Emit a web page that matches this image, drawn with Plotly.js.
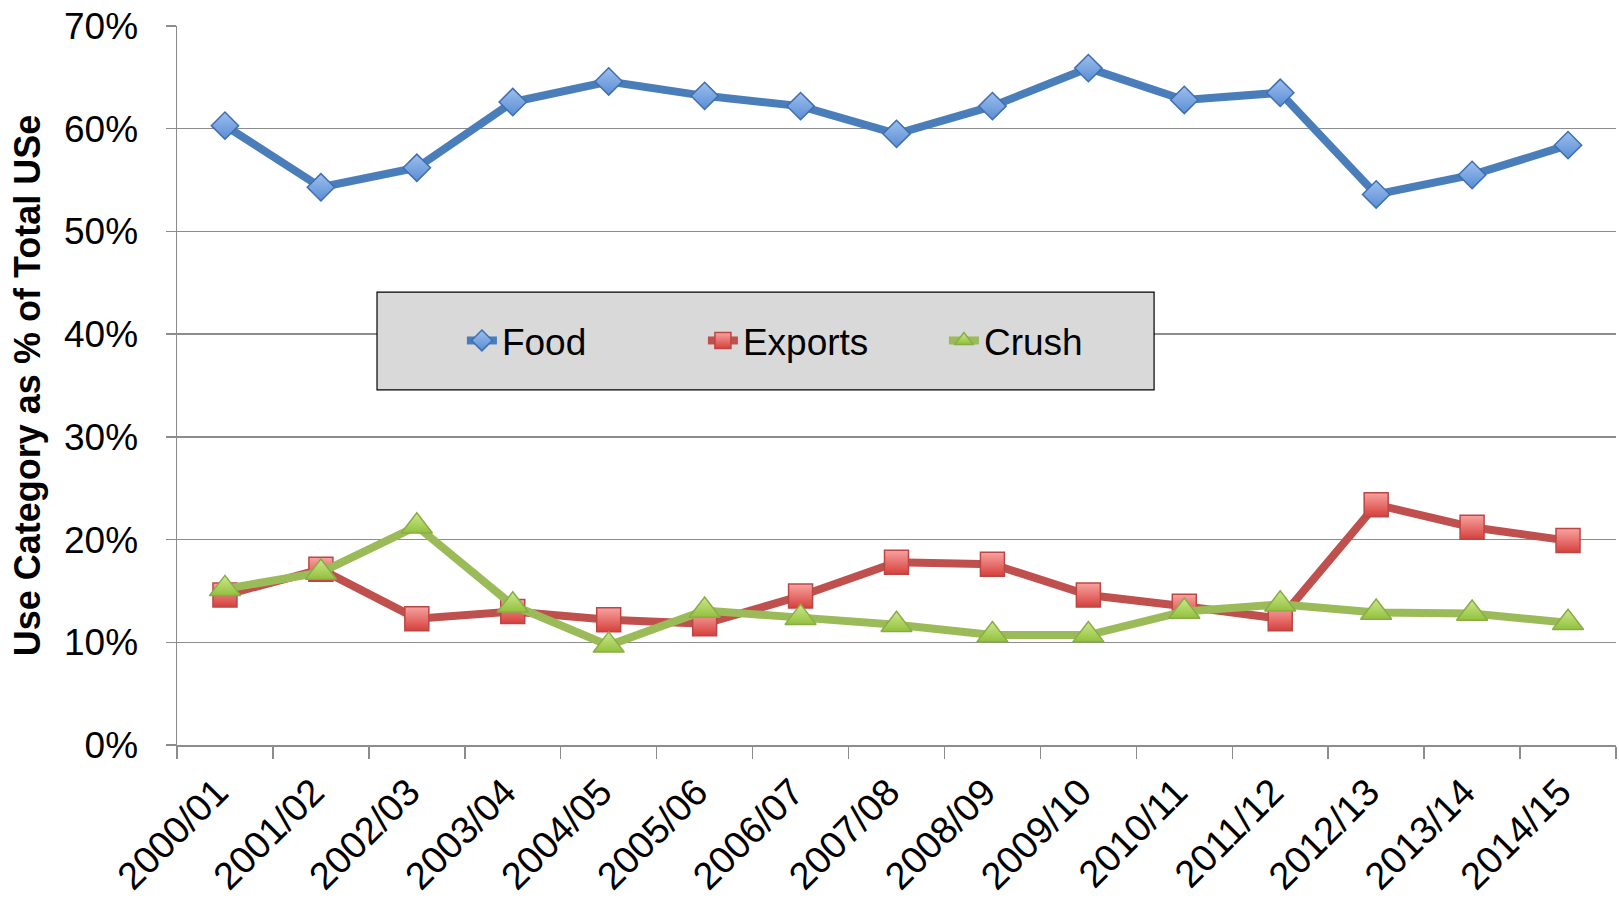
<!DOCTYPE html>
<html>
<head>
<meta charset="utf-8">
<script src="https://cdn.plot.ly/plotly-3.0.1.min.js"></script>
<style>html,body{margin:0;padding:0;background:#fff;}#chart{width:1619px;height:917px;}</style>
</head>
<body>
<div id="chart"></div>
<script>
var years = ["2000/01","2001/02","2002/03","2003/04","2004/05","2005/06","2006/07","2007/08","2008/09","2009/10","2010/11","2011/12","2012/13","2013/14","2014/15"];
var food    = [60.3, 54.3, 56.2, 62.6, 64.6, 63.2, 62.2, 59.5, 62.2, 65.9, 62.8, 63.5, 53.6, 55.5, 58.4];
var exportsV = [14.6, 17.1, 12.3, 13.0, 12.2, 11.8, 14.5, 17.8, 17.6, 14.6, 13.5, 12.3, 23.4, 21.2, 19.9];
var crush   = [15.2, 16.8, 21.3, 13.6, 9.7, 13.1, 12.4, 11.7, 10.7, 10.7, 13.0, 13.7, 12.9, 12.8, 11.9];
var seriesNames = ["Food", "Exports", "Crush"];

var FONT = '"Liberation Sans Narrow", "Liberation Sans", Arial, sans-serif';

var traces = [
  {x: years, y: food, name: seriesNames[0], type: 'scatter', mode: 'lines+markers',
   line: {color: '#4a7ebb', width: 8},
   marker: {symbol: 'diamond', size: 21, color: '#9dbfee',
            gradient: {type: 'vertical', color: '#5a8dd5'},
            line: {color: '#3f6fae', width: 1.5}}},
  {x: years, y: exportsV, name: seriesNames[1], type: 'scatter', mode: 'lines+markers',
   line: {color: '#c0504d', width: 8},
   marker: {symbol: 'square', size: 24, color: '#f8a3a0',
            gradient: {type: 'vertical', color: '#d6403c'},
            line: {color: '#bb4744', width: 1.5}}},
  {x: years, y: crush, name: seriesNames[2], type: 'scatter', mode: 'lines+markers',
   line: {color: '#9bbb59', width: 8},
   marker: {symbol: 'triangle-up', size: 27, color: '#cde88f',
            gradient: {type: 'vertical', color: '#92c13c'},
            line: {color: '#89ad45', width: 1.5}}}
];

var layout = {
  width: 1619, height: 917,
  margin: {l: 177, r: 3, t: 26, b: 172},
  paper_bgcolor: '#ffffff', plot_bgcolor: '#ffffff',
  font: {family: FONT, color: '#000000', size: 37},
  showlegend: true,
  legend: {orientation: 'h', x: 0.198, xanchor: 'left', y: 0.562, yanchor: 'middle',
           bgcolor: 'rgba(0,0,0,0)', borderwidth: 0,
           font: {family: FONT, size: 37, color: '#000'},
           entrywidth: 196, entrywidthmode: 'pixels', itemsizing: 'trace'},
  shapes: [
    {type: 'rect', xref: 'paper', yref: 'paper', x0: 0.139, x1: 0.679, y0: 0.494, y1: 0.630,
     fillcolor: '#d9d9d9', line: {color: '#000000', width: 1.2}, layer: 'above'}
  ],
  xaxis: {
    type: 'category', range: [-0.5, 14.5],
    showgrid: false, showline: true, linecolor: '#8c8c8c', linewidth: 1.5,
    ticks: 'outside', tickson: 'boundaries', ticklen: 12, tickcolor: '#8c8c8c', tickwidth: 1.5,
    tickangle: -45, tickfont: {family: FONT, size: 38, color: '#000'},
    ticklabelstandoff: 8, ticklabelshift: -8,
    zeroline: false, fixedrange: true
  },
  yaxis: {
    range: [0, 70], dtick: 10, ticksuffix: '%',
    showgrid: true, gridcolor: '#8c8c8c', gridwidth: 1.5,
    showline: true, linecolor: '#8c8c8c', linewidth: 1.5,
    ticks: 'outside', ticklen: 10, tickcolor: '#8c8c8c', tickwidth: 1.5,
    ticklabelstandoff: 20,
    tickfont: {family: FONT, size: 37, color: '#000'},
    zeroline: false,
    title: {text: '<b>Use Category as % of Total USe</b>', standoff: 12,
            font: {family: FONT, size: 36, color: '#000'}}
  }
};

Plotly.newPlot('chart', traces, layout, {displayModeBar: false, staticPlot: true});
</script>
</body>
</html>
